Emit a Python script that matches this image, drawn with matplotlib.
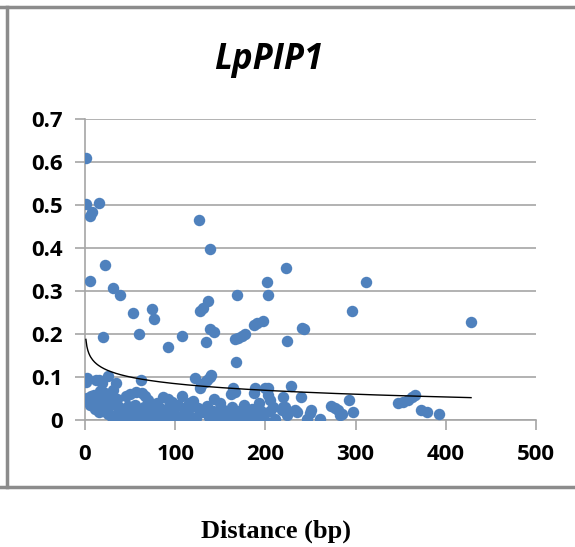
import numpy as np
import matplotlib
matplotlib.use("Agg")
import matplotlib.pyplot as plt
from matplotlib.lines import Line2D

# data: distance (bp) and value
high_x = [1, 1.5, 15, 5, 8, 22, 5.5, 31, 39, 126, 139, 169, 202, 203, 223,
          53, 74, 76, 20, 60, 92, 107, 127, 131, 136, 139, 143, 134,
          166, 170, 174, 177, 167, 187, 191, 197, 224, 241, 243, 296, 312, 428]
high_y = [0.609, 0.502, 0.504, 0.474, 0.484, 0.361, 0.323, 0.308, 0.291, 0.465, 0.397, 0.291, 0.320, 0.291, 0.353,
          0.248, 0.257, 0.236, 0.194, 0.200, 0.170, 0.195, 0.254, 0.260, 0.277, 0.211, 0.205, 0.182,
          0.188, 0.191, 0.195, 0.200, 0.136, 0.221, 0.226, 0.231, 0.183, 0.215, 0.211, 0.254, 0.320, 0.227]

low_x = [2, 1, 12, 15, 25, 19, 34, 62, 31,
         17, 57, 63, 67, 87, 92, 107, 70, 96, 2, 7, 10, 22, 27, 36, 45, 50, 80, 115, 120,
         1, 4, 9, 14, 18, 24, 29, 33, 38, 42, 48, 52, 55, 58, 65, 72, 77, 83, 88, 93, 99, 103, 110, 117,
         5, 11, 16, 20, 26, 30, 35, 40, 44, 47, 53, 57, 62, 66, 71, 75, 79, 84, 89, 94, 98, 102, 106, 111, 114, 118, 123,
         122, 129, 139, 140, 128, 133, 135,
         143, 150, 162, 164, 166, 188, 187, 193, 200, 203, 203, 205, 208, 205, 211, 187, 183, 174,
         125, 130, 135, 138, 142, 145, 148, 152, 155, 158, 160, 163, 168, 170, 172, 176, 178, 180, 185, 190, 195, 198,
         220, 222, 218, 224, 228, 233, 235, 239, 220,
         246, 249, 251, 260, 273, 277, 281, 285, 283, 293, 297,
         347, 353, 358, 362, 366, 373, 379, 392]
low_y = [0.097, 0.088, 0.093, 0.092, 0.102, 0.085, 0.085, 0.094, 0.070,
         0.068, 0.066, 0.062, 0.055, 0.054, 0.048, 0.056, 0.047, 0.043, 0.052, 0.055, 0.058, 0.062, 0.055, 0.050, 0.055, 0.060, 0.040, 0.040, 0.045,
         0.048, 0.050, 0.045, 0.046, 0.040, 0.045, 0.034, 0.038, 0.030, 0.024, 0.032, 0.028, 0.035, 0.022, 0.030, 0.025, 0.033, 0.028, 0.022, 0.030, 0.025, 0.035, 0.028, 0.030,
         0.034, 0.026, 0.018, 0.022, 0.014, 0.008, 0.014, 0.005, 0.010, 0.002, 0.008, 0.003, 0.012, 0.005, 0.010, 0.002, 0.008, 0.004, 0.012, 0.006, 0.002, 0.010, 0.004, 0.012, 0.003, 0.008, 0.005,
         0.097, 0.081, 0.100, 0.105, 0.075, 0.088, 0.092,
         0.050, 0.040, 0.060, 0.075, 0.065, 0.074, 0.063, 0.040, 0.075, 0.074, 0.058, 0.047, 0.030, 0.020, 0.002, 0.002, 0.000, 0.018,
         0.028, 0.018, 0.032, 0.008, 0.022, 0.003, 0.012, 0.026, 0.004, 0.016, 0.002, 0.030, 0.008, 0.022, 0.003, 0.036, 0.016, 0.004, 0.026, 0.012, 0.020, 0.003,
         0.054, 0.031, 0.023, 0.012, 0.079, 0.023, 0.019, 0.053, 0.030,
         0.002, 0.016, 0.023, 0.002, 0.033, 0.027, 0.023, 0.014, 0.012, 0.047, 0.018,
         0.039, 0.043, 0.047, 0.054, 0.058, 0.023, 0.019, 0.014]

dist = np.array(high_x + low_x, dtype=float)
val = np.array(high_y + low_y, dtype=float)

blue = "#4f81bd"
grid_c = "#a6a6a6"

fig = plt.figure(figsize=(5.75, 5.47), dpi=100)
ax = fig.add_axes([85/575, 1 - 420/547, 451/575, 301/547])

ax.scatter(dist, val, s=68, color=blue, linewidths=0, zorder=3)

# logarithmic trendline, as Excel draws it
a, b = np.polyfit(np.log(dist), val, 1)
tx = np.linspace(dist.min(), dist.max(), 400)
ax.plot(tx, a*np.log(tx) + b, color="black", lw=1, zorder=4)

ax.set_xlim(0, 500)
ax.set_ylim(0, 0.7)
ax.set_xticks(np.arange(0, 501, 100))
ax.set_yticks(np.round(np.arange(0, 0.71, 0.1), 1))
ax.set_yticklabels(["0", "0.1", "0.2", "0.3", "0.4", "0.5", "0.6", "0.7"])
ax.yaxis.grid(True, color=grid_c, lw=1.2)
ax.set_axisbelow(True)
for s in ["top", "right"]:
    ax.spines[s].set_visible(False)
for s in ["left", "bottom"]:
    ax.spines[s].set_color(grid_c)
    ax.spines[s].set_linewidth(1.2)
ax.tick_params(axis="both", length=7, width=1.2, color=grid_c, labelsize=16)
ax.tick_params(axis="y", pad=9)
ax.tick_params(axis="x", pad=10)
for lab in ax.get_xticklabels() + ax.get_yticklabels():
    lab.set_fontweight("bold")
    lab.set_family("Open Sans")

fig.text(269/575, 1 - 60/547, "LpPIP1", ha="center", va="center",
         fontsize=25, fontweight="bold", style="italic", family="Open Sans")
fig.text(276/575, 1 - 531/547, "Distance (bp)", ha="center", va="center",
         fontsize=19, fontweight="bold", family="Liberation Serif")

# grey frame of the embedded chart
frame = dict(color="#8c8c8c", lw=2.5, transform=fig.transFigure)
fig.add_artist(Line2D([0, 1], [1 - 6.5/547]*2, **frame))
fig.add_artist(Line2D([6.5/575]*2, [1 - 6.5/547, 1 - 487/547], **frame))
fig.add_artist(Line2D([0, 1], [1 - 487/547]*2, **frame))

fig.savefig("out.png", dpi=100)
